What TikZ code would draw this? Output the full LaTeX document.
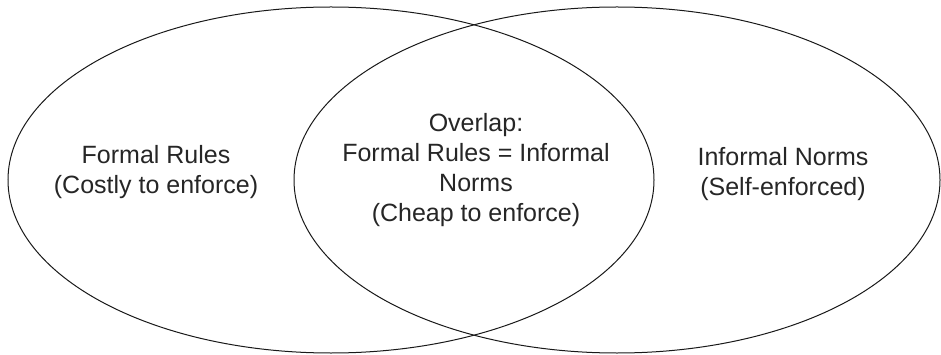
\documentclass[tikz,border=0pt]{standalone}
\usepackage{fontspec}
\setmainfont{Liberation Sans}
\usetikzlibrary{shapes.geometric}

\begin{document}
\begin{tikzpicture}[x=1pt,y=-1pt,line width=1pt]
 \tikzstyle{set}=[ellipse,draw=black!90,inner sep=0pt,
 minimum width=646pt,minimum height=346pt]
 \tikzstyle{settext}=[align=center,inner sep=0pt,text=black!85,
 font=\fontsize{25}{30}\selectfont]
 \useasboundingbox (0,0) rectangle (941,355);
 \node[set]     (F)  at (331,180) {};
 \node[set]     (I)  at (617,180) {};
 \node[settext] (FT) at (156,172) {Formal Rules\\(Costly to enforce)};
 \node[settext] (O)  at (476,170) {Overlap:\\Formal Rules = Informal\\Norms\\(Cheap to enforce)};
 \node[settext] (IT) at (783,174) {Informal Norms\\(Self-enforced)};
\end{tikzpicture}
\end{document}
